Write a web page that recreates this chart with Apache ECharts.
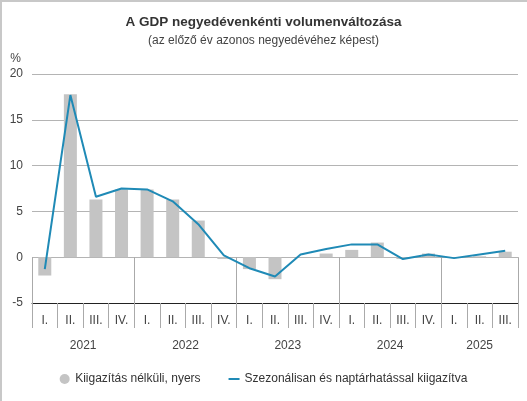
<!DOCTYPE html>
<html>
<head>
<meta charset="utf-8">
<script src="https://cdn.jsdelivr.net/npm/echarts@6/dist/echarts.min.js"></script>
<style>
  html, body { margin: 0; padding: 0; background: #fff; }
  #wrap { position: relative; width: 527px; height: 401px; }
  #chart { position: absolute; left: 0; top: 0; width: 527px; height: 401px; }
  .bt { position: absolute; left: 0; top: 0; width: 527px; height: 2px; background: #c8c8c8; }
  .bl { position: absolute; left: 0; top: 0; width: 2px; height: 401px; background: #c8c8c8; }
</style>
</head>
<body>
<div id="wrap">
  <div id="chart"></div>
  <div class="bt"></div>
  <div class="bl"></div>
</div>
<script>
// ---- data ----
const titleText = 'A GDP negyedévenkénti volumenváltozása';
const subtitleText = '(az előző év azonos negyedévéhez képest)';
const years = ['2021', '2022', '2023', '2024', '2025'];
const quartersPerYear = [4, 4, 4, 4, 3];
const quarterNames = ['I.', 'II.', 'III.', 'IV.'];
const rawName = 'Kiigazítás nélküli, nyers';
const adjName = 'Szezonálisan és naptárhatással kiigazítva';
const rawValues = [-2.0, 17.8, 6.3, 7.4, 7.4, 6.3, 4.0, -0.2, -1.3, -2.4, 0.0, 0.4, 0.8, 1.6, -0.2, 0.4, 0.0, 0.1, 0.6];
const adjValues = [-1.3, 17.7, 6.6, 7.5, 7.4, 6.1, 3.6, 0.2, -1.2, -2.1, 0.3, 0.9, 1.4, 1.4, -0.2, 0.3, -0.1, 0.3, 0.7];
const yTicks = { min: -5, max: 20, interval: 5 };

// ---- derived categories ----
const categories = [];
const yearBounds = [0];
const yearCenters = [];
let acc = 0;
quartersPerYear.forEach(function (n) {
  for (let i = 0; i < n; i++) categories.push(quarterNames[i]);
  yearCenters.push(acc + n / 2);
  acc += n;
  yearBounds.push(acc);
});

const FONT = '"Liberation Sans", Arial, sans-serif';
const chart = echarts.init(document.getElementById('chart'), null, { renderer: 'canvas' });
chart.setOption({
  backgroundColor: '#ffffff',
  animation: false,
  textStyle: { fontFamily: FONT },
  title: [
    { text: titleText, left: 'center', top: 10,
      textStyle: { fontFamily: FONT, fontSize: 13.5, fontWeight: 'bold', color: '#333' } },
    { text: subtitleText, left: 'center', top: 30,
      textStyle: { fontFamily: FONT, fontSize: 12, fontWeight: 'normal', color: '#444' } }
  ],
  grid: { left: 32, right: 9, top: 74, bottom: 98, containLabel: false },
  legend: {
    bottom: 11,
    left: 'center',
    itemGap: 28,
    itemWidth: 11,
    itemHeight: 10,
    textStyle: { fontFamily: FONT, fontSize: 12, color: '#333' },
    data: [
      { name: rawName, icon: 'circle' },
      { name: adjName, icon: 'path://M0,4H11V6H0Z' }
    ]
  },
  xAxis: [
    {
      type: 'category',
      data: categories,
      position: 'bottom',
      boundaryGap: true,
      axisLine: { show: true, onZero: false, lineStyle: { color: '#222', width: 1 } },
      axisTick: { show: true, interval: 0, length: 25, lineStyle: { color: '#aaa' } },
      axisLabel: { interval: 0, margin: 12, fontSize: 12, color: '#444', fontFamily: FONT },
      splitLine: { show: false }
    },
    {
      type: 'value',
      min: 0,
      max: categories.length,
      position: 'bottom',
      axisLine: { show: false },
      axisTick: { show: true, length: 51, customValues: yearBounds, lineStyle: { color: '#aaa' } },
      axisLabel: {
        customValues: yearCenters, margin: 37, fontSize: 12, color: '#444', fontFamily: FONT,
        formatter: function (v) {
          const idx = yearCenters.indexOf(v);
          return idx >= 0 ? years[idx] : '';
        }
      },
      splitLine: { show: false }
    }
  ],
  yAxis: {
    type: 'value',
    min: yTicks.min,
    max: yTicks.max,
    interval: yTicks.interval,
    name: '%',
    nameLocation: 'end',
    nameGap: 9,
    nameTextStyle: { align: 'right', padding: [0, 11, 0, 0], fontSize: 12, color: '#444', fontFamily: FONT },
    axisLine: { show: false },
    axisTick: { show: false },
    axisLabel: { margin: 9, fontSize: 12, color: '#444', fontFamily: FONT },
    splitLine: { show: true, lineStyle: { color: '#b4b4b4', width: 1 } }
  },
  series: [
    {
      name: rawName,
      type: 'bar',
      xAxisIndex: 0,
      data: rawValues,
      barWidth: 13,
      itemStyle: { color: '#c4c4c4' },
      z: 2
    },
    {
      name: adjName,
      type: 'line',
      xAxisIndex: 0,
      data: adjValues,
      showSymbol: false,
      symbol: 'none',
      lineStyle: { color: '#1f8ab6', width: 2 },
      itemStyle: { color: '#1f8ab6' },
      z: 3
    }
  ]
});
</script>
</body>
</html>
